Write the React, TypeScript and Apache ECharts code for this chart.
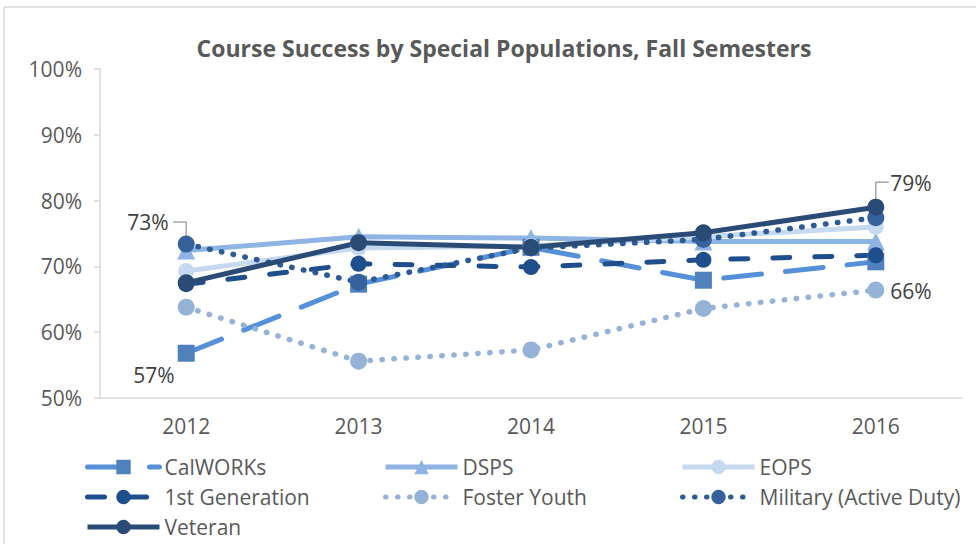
import React, { useEffect, useRef } from "react";
import * as echarts from "echarts";

const years = ["2012", "2013", "2014", "2015", "2016"];
const calworks = [56.8, 67.3, 72.9, 67.9, 70.7];
const dsps = [72.4, 74.5, 74.3, 73.8, 73.8];
const eops = [69.3, 72.8, 73.1, 74.5, 76.0];
const firstGen = [67.3, 70.4, 69.9, 71.0, 71.7];
const foster = [63.8, 55.6, 57.3, 63.6, 66.4];
const military = [73.4, 67.6, 72.8, 74.1, 77.4];
const veteran = [67.5, 73.6, 72.9, 75.1, 79.0];
const yMin = 50;
const yMax = 100;
const yStep = 10;

const FONT = "'Open Sans', sans-serif";
const TXT = "#595959";

export default function App() {
  const ref = useRef<HTMLDivElement>(null);
  useEffect(() => {
    document.body.style.margin = "0";
    const chart = echarts.init(ref.current!, null, { renderer: "svg" });
    const labelStyle = { fontFamily: FONT, fontSize: 21, color: "#404040" };
    const fmt = (p: any) => Math.round(p.value) + "%";
    const withLabel = (arr: number[], idx: number, label: any) =>
      arr.map((v, i) => (i === idx ? { value: v, label: { show: true, formatter: fmt, ...labelStyle, ...label } } : v));

    const mk = (name: string, data: any[], lineColor: string, markColor: string, symbol: string, size: number, type: any, cap: string = "butt", width: number = 5) => ({
      name,
      type: "line",
      data,
      symbol,
      symbolSize: size,
      showAllSymbol: true,
      lineStyle: { color: lineColor, width, type, cap },
      itemStyle: { color: markColor, borderWidth: 0 },
      emphasis: { disabled: true },
      z: 2,
    });

    const option: any = {
      animation: false,
      backgroundColor: "#ffffff",
      title: {
        text: "Course Success by Special Populations, Fall Semesters",
        left: 499,
        textAlign: "center",
        top: 31,
        textStyle: { fontFamily: FONT, fontSize: 23, fontWeight: "bold", color: TXT },
      },
      grid: { left: 100, right: 14, top: 69, bottom: 146 },
      xAxis: {
        type: "category",
        data: years,
        boundaryGap: true,
        axisLine: { lineStyle: { color: "#d9d9d9", width: 1.5 } },
        axisTick: { show: false },
        axisLabel: { fontFamily: FONT, fontSize: 21, color: TXT, margin: 17 },
      },
      yAxis: {
        type: "value",
        min: yMin,
        max: yMax,
        interval: yStep,
        splitLine: { show: false },
        axisLine: { show: true, lineStyle: { color: "#d9d9d9", width: 1.5 } },
        axisTick: { show: true, length: 6, lineStyle: { color: "#d9d9d9", width: 1.5 } },
        axisLabel: { fontFamily: FONT, fontSize: 21, color: TXT, margin: 18, formatter: (v: number) => v + "%" },
      },
      legend: [
        { names: ["CalWORKs", "1st Generation", "Veteran"], left: 80 },
        { names: ["DSPS", "Foster Youth"], left: 378 },
        { names: ["EOPS", "Military (Active Duty)"], left: 675 },
      ].map((l) => ({
        data: l.names,
        left: l.left,
        top: 451,
        orient: "vertical",
        itemWidth: 72,
        itemHeight: 18,
        itemGap: 8,
        selectedMode: false,
        lineStyle: { width: 5 },
        textStyle: { fontFamily: FONT, fontSize: 21, color: TXT, lineHeight: 22 },
      })),
      series: [
        mk("CalWORKs", withLabel(calworks, 0, { position: "left", distance: 5, offset: [2, 22] }), "#5590d8", "#4f81bd", "rect", 17, [38, 24], "round"),
        mk("DSPS", dsps, "#8eb4e3", "#8eb4e3", "triangle", 18, "solid"),
        mk("EOPS", eops, "#c5d9f1", "#c5d9f1", "circle", 16, "solid"),
        mk("1st Generation", firstGen, "#1f4e8c", "#1f4e8c", "circle", 16, [17, 25], "round"),
        mk("Foster Youth", withLabel(foster, 4, { position: "right", distance: 5, offset: [1, 1] }), "#95b3d7", "#95b3d7", "circle", 17, [0.5, 11.5], "round", 5.5),
        mk("Military (Active Duty)", withLabel(military, 0, { position: "left", distance: 5, offset: [-4, -22] }), "#2c5a94", "#35629d", "circle", 17, [0.5, 11.5], "round", 5.5),
        mk("Veteran", withLabel(veteran, 4, { position: "right", distance: 5, offset: [1, -24] }), "#2b4b77", "#2b4b77", "circle", 17, "solid"),
      ],
    };
    chart.setOption(option);

    const pm = chart.convertToPixel({ xAxisIndex: 0, yAxisIndex: 0 }, [0, military[0]]) as number[];
    const pv = chart.convertToPixel({ xAxisIndex: 0, yAxisIndex: 0 }, [4, veteran[4]]) as number[];
    const leader = { stroke: "#a6a6a6", lineWidth: 1.5, fill: null };
    chart.setOption({
      graphic: [
        { type: "line", shape: { x1: 4, y1: 7, x2: 976, y2: 7 }, style: { stroke: "#d9d9d9", lineWidth: 1.5 }, silent: true },
        { type: "line", shape: { x1: 4, y1: 7, x2: 4, y2: 544 }, style: { stroke: "#d9d9d9", lineWidth: 1.5 }, silent: true },
        { type: "polyline", shape: { points: [[pm[0], pm[1] - 3], [pm[0], pm[1] - 22], [pm[0] - 13, pm[1] - 22]] }, style: leader, silent: true, z: 1 },
        { type: "polyline", shape: { points: [[pv[0], pv[1] - 3], [pv[0], pv[1] - 25], [pv[0] + 13, pv[1] - 25]] }, style: leader, silent: true, z: 1 },
      ],
    });

    return () => chart.dispose();
  }, []);
  return <div ref={ref} style={{ width: 976, height: 544 }} />;
}
